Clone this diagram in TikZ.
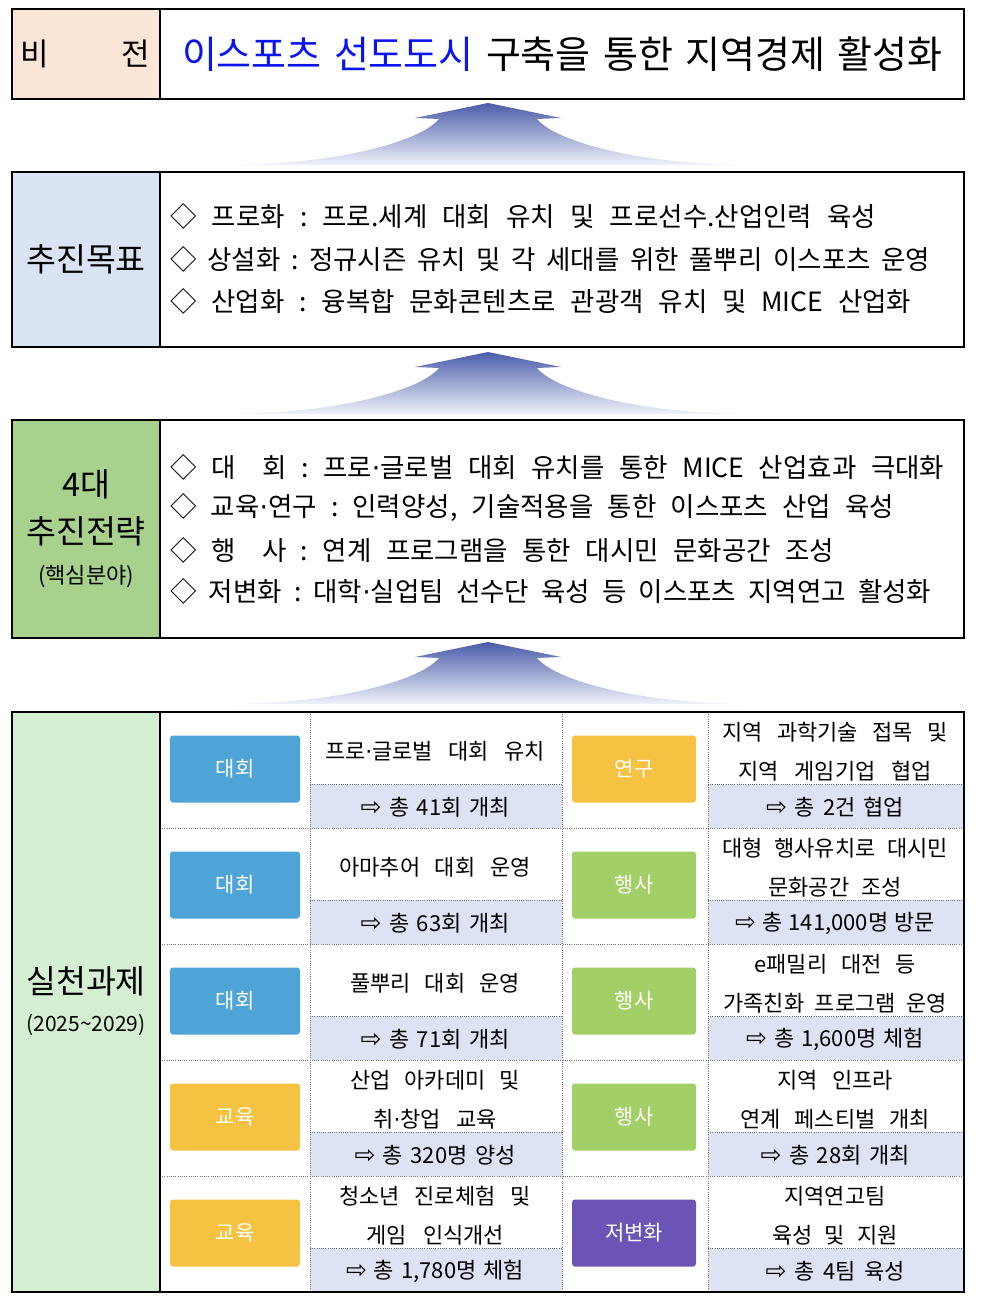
\documentclass[tikz,border=0pt]{standalone}
\usepackage{fontspec}
\setmainfont{Noto Sans CJK KR}
\newfontfamily\arrowfont{DejaVu Sans}
\newcommand\fs[1]{\fontsize{#1}{#1}\selectfont}
\newcommand\fit[2]{\makebox[#1pt][s]{\frenchspacing\spaceskip=1pt plus 1fil\relax #2}}
\newcommand\md{{\arrowfont ·}}
\newcommand\bnd[2]{\fit{#1}{{\arrowfont\fs{25}⇨} #2}}
\definecolor{visionbg}{HTML}{FBE5D6}
\definecolor{goalbg}{HTML}{DAE3F3}
\definecolor{stratbg}{HTML}{A9D18E}
\definecolor{taskbg}{HTML}{D5EFD3}
\definecolor{bandbg}{HTML}{DEE3F4}
\definecolor{bblue}{HTML}{4EA4D6}
\definecolor{byellow}{HTML}{F5C242}
\definecolor{bgreen}{HTML}{A2D066}
\definecolor{bpurple}{HTML}{6B54B5}
\definecolor{arrowtop}{HTML}{4A5CA9}
\definecolor{arrowbot}{HTML}{F0F2FA}
\definecolor{titleblue}{HTML}{0A14F0}
\def\xbA{235}\def\xtA{435}\def\wA{130}
\def\xbB{634}\def\xtB{835}\def\wB{124}
\newcommand\bigarrow[2]{%
  \begin{scope}[shift={(0,#2)}]
    \shade[top color=arrowtop, middle color=arrowtop!60!white, bottom color=arrowbot]
      (488,103) -- (561,118) -- (537,119)
      .. controls (556,142) and (640,164) .. (743,165) -- (233,165)
      .. controls (336,164) and (420,142) .. (439,119) -- (415,118) -- cycle;
    \coordinate (#1) at (488,103);
  \end{scope}}
% #1 name #2 T #3 column #4 colour #5 badge text #6 line1 #7 line2 #8 band
\newcommand\cell[8]{%
  \node[badge, fill=#4, minimum width=\csname w#3\endcsname pt] (#1b) at (\csname xb#3\endcsname, #2+57) {#5};
  \if\relax\detokenize{#7}\relax
    \node[ttext] (#1t) at (\csname xt#3\endcsname, #2+39) {#6};
  \else
    \node[ttext] (#1t) at (\csname xt#3\endcsname, #2+20) {#6};
    \node[ttext] (#1u) at (\csname xt#3\endcsname, #2+59) {#7};
  \fi
  \node[ttext] (#1r) at (\csname xt#3\endcsname, #2+95) {#8};
}
\begin{document}
\begin{tikzpicture}[x=1pt,y=-1pt,
  box/.style={draw=black, line width=1.2pt},
  dots/.style={draw=black!55, line width=0.9pt, dash pattern=on 0.9pt off 1.3pt},
  badge/.style={rounded corners=3pt, inner sep=0pt, minimum height=67pt, text=white, font=\fs{21}},
  ttext/.style={inner sep=0pt, font=\fs{22}},
  ltext/.style={anchor=west, inner sep=0pt, font=\fs{26.5}},
  lab/.style={inner sep=0pt, font=\fs{32.5}},
]
\useasboundingbox (0,0) rectangle (980,1303);
\fill[white] (0,0) rectangle (980,1303);

% ---------- vision ----------
\fill[visionbg] (12,9) rectangle (160,99);
\draw[box] (12,9) rectangle (964,99);
\draw[box] (160,9) -- (160,99);
\node[lab, anchor=west, font=\fs{31}] (vb) at (20,54) {비};
\node[lab, anchor=east, font=\fs{31}] (vj) at (150,54) {전};
\node[inner sep=0pt, font=\fs{38}] (title) at (562,54) {\fit{760}{\textcolor{titleblue}{이스포츠 선도도시} 구축을 통한 지역경제 활성화}};

\bigarrow{a1}{0}

% ---------- goals ----------
\fill[goalbg] (12,172) rectangle (160,347);
\draw[box] (12,172) rectangle (964,347);
\draw[box] (160,172) -- (160,347);
\node[lab] (goal) at (86,259) {추진목표};
\node[ltext] (g1) at (170,216) {\fit{706}{◇ 프로화 : 프로.세계 대회 유치 및 프로선수.산업인력 육성}};
\node[ltext] (g2) at (170,259) {\fit{760}{◇ 상설화 : 정규시즌 유치 및 각 세대를 위한 풀뿌리 이스포츠 운영}};
\node[ltext] (g3) at (170,301) {\fit{741}{◇ 산업화 : 융복합 문화콘텐츠로 관광객 유치 및 MICE 산업화}};

\bigarrow{a2}{249}

% ---------- strategies ----------
\fill[stratbg] (12,420) rectangle (160,638);
\draw[box] (12,420) rectangle (964,638);
\draw[box] (160,420) -- (160,638);
\node[lab] (s0a) at (86,484) {4대};
\node[lab] (s0b) at (86,531) {추진전략};
\node[lab, font=\fs{22}] (s0c) at (86,577) {(핵심분야)};
\node[ltext] (s1) at (170,467) {\fit{774}{◇ 대　회 : 프로\md 글로벌 대회 유치를 통한 MICE 산업효과 극대화}};
\node[ltext] (s2) at (170,508) {\fit{724}{◇ 교육\md 연구 : 인력양성, 기술적용을 통한 이스포츠 산업 육성}};
\node[ltext] (s3) at (170,550) {\fit{664}{◇ 행　사 : 연계 프로그램을 통한 대시민 문화공간 조성}};
\node[ltext] (s4) at (170,591) {\fit{761}{◇ 저변화 : 대학\md 실업팀 선수단 육성 등 이스포츠 지역연고 활성화}};

\bigarrow{a3}{539}

% ---------- tasks ----------
\fill[taskbg] (12,712) rectangle (160,1292);
\foreach \T in {712,828,944,1060,1176}{
  \fill[bandbg] (310,\T+72) rectangle (562,\T+116);
  \fill[bandbg] (708,\T+72) rectangle (964,\T+116);
  \draw[dots] (310,\T+72) -- (562,\T+72);
  \draw[dots] (708,\T+72) -- (964,\T+72);
}
\foreach \T in {828,944,1060,1176}{
  \draw[dots] (160,\T) -- (964,\T);
}
\foreach \X in {310,562,708}{
  \draw[dots] (\X,712) -- (\X,1292);
}
\draw[box] (12,712) rectangle (964,1292);
\draw[box] (160,712) -- (160,1292);
\node[lab] (t0a) at (86,981) {실천과제};
\node[lab, font=\fs{21}] (t0b) at (86,1025) {(2025\textasciitilde2029)};

\cell{r1a}{712}{A}{bblue}{대회}{\fit{220}{프로\md 글로벌 대회 유치}}{}{\bnd{149}{총 41회 개최}}
\cell{r2a}{828}{A}{bblue}{대회}{\fit{191}{아마추어 대회 운영}}{}{\bnd{149}{총 63회 개최}}
\cell{r3a}{944}{A}{bblue}{대회}{\fit{169}{풀뿌리 대회 운영}}{}{\bnd{149}{총 71회 개최}}
\cell{r4a}{1060}{A}{byellow}{교육}{\fit{170}{산업 아카데미 및}}{\fit{123}{취\md 창업 교육}}{\bnd{161}{총 320명 양성}}
\cell{r5a}{1176}{A}{byellow}{교육}{\fit{191}{청소년 진로체험 및}}{\fit{138}{게임 인식개선}}{\bnd{178}{총 1,780명 체험}}

\cell{r1b}{712}{B}{byellow}{연구}{\fit{226}{지역 과학기술 접목 및}}{\fit{193}{지역 게임기업 협업}}{\bnd{138}{총 2건 협업}}
\cell{r2b}{828}{B}{bgreen}{행사}{\fit{226}{대형 행사유치로 대시민}}{\fit{133}{문화공간 조성}}{\bnd{200}{총 141,000명 방문}}
\cell{r3b}{944}{B}{bgreen}{행사}{\fit{161}{e패밀리 대전 등}}{\fit{223}{가족친화 프로그램 운영}}{\bnd{178}{총 1,600명 체험}}
\cell{r4b}{1060}{B}{bgreen}{행사}{\fit{116}{지역 인프라}}{\fit{190}{연계 페스티벌 개최}}{\bnd{149}{총 28회 개최}}
\cell{r5b}{1176}{B}{bpurple}{저변화}{지역연고팀}{\fit{125}{육성 및 지원}}{\bnd{139}{총 4팀 육성}}
\end{tikzpicture}
\end{document}
